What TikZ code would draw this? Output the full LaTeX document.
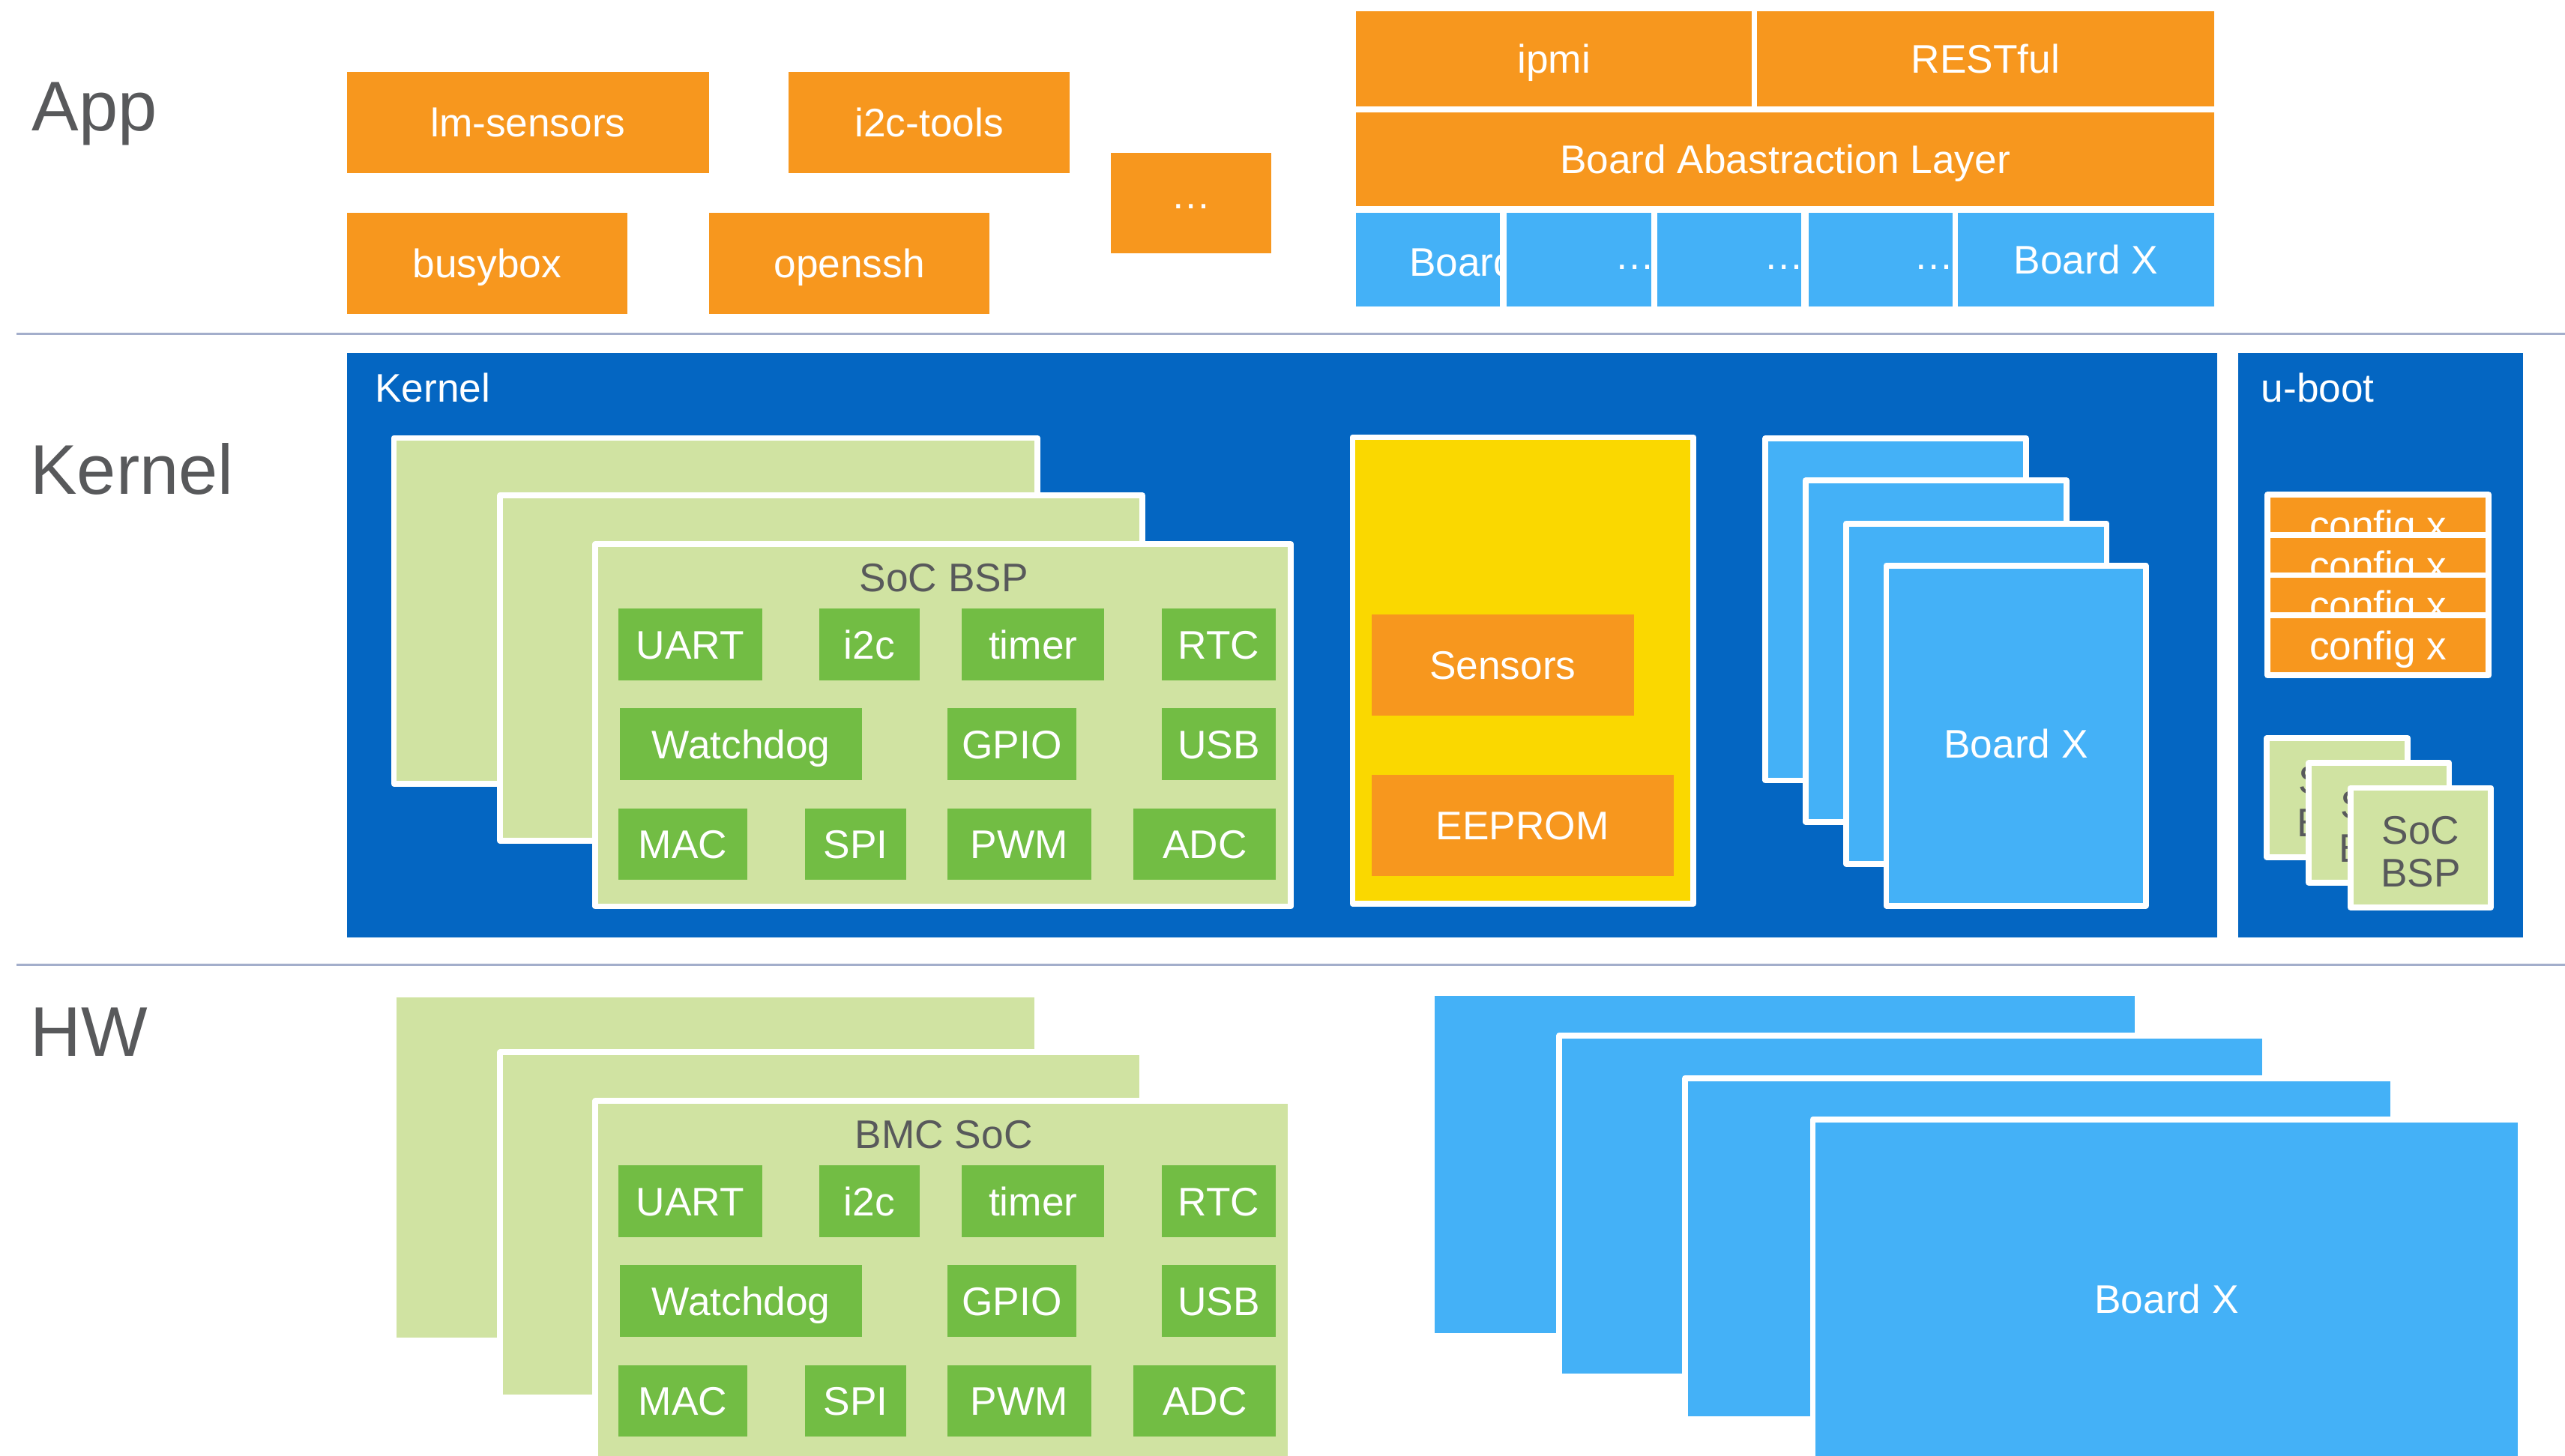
\documentclass[tikz,border=0pt]{standalone}
\usepackage{fontspec}
\setmainfont{Liberation Sans}
\definecolor{orng}{HTML}{F7971E}
\definecolor{kblue}{HTML}{0466C2}
\definecolor{lblue}{HTML}{44B1F7}
\definecolor{lgreen}{HTML}{D0E3A2}
\definecolor{dgreen}{HTML}{72BD44}
\definecolor{yel}{HTML}{FAD800}
\definecolor{gtext}{HTML}{58595B}
\definecolor{rulecol}{HTML}{A3AECB}
\newcommand\txtsz{\fontsize{24.4}{29.3}\selectfont}
\newcommand\bigsz{\fontsize{43}{51.6}\selectfont}
% box node from its corner coordinates: style, name, x1, y1, x2, y2, text
\newcommand\boxnode[7]{\node[#1, minimum width={#5-#3}, minimum height={#6-#4}] (#2) at ({(#3+#5)/2},{(#4+#6)/2}) {#7};}
\tikzset{
  plain/.style={rectangle, inner sep=0pt, outer sep=0pt, font=\txtsz, text height=17.6pt, text depth=0pt},
  obox/.style={plain, fill=orng, text=white},
  gbox/.style={plain, fill=dgreen, text=white},
  rimmed/.style={plain, draw=white, line width=3.6pt, line join=round},
  bbox/.style={rimmed, fill=lblue, text=white},
  lgbox/.style={rimmed, fill=lgreen, text=gtext},
  ybox/.style={rimmed, fill=yel},
  cbox/.style={rimmed, fill=orng, text=white},
  kbox/.style={plain, fill=kblue},
  txt/.style={inner sep=0pt, outer sep=0pt, font=\txtsz},
  bigtxt/.style={inner sep=0pt, outer sep=0pt, font=\bigsz, text=gtext, anchor=base west},
  divider/.style={draw=rulecol, line width=1.2pt},
}
% stack of SoC boards with the peripheral blocks on the front one
\newcommand\socstack[3]{%
  \begin{scope}[yshift=-#2pt]
    \boxnode{lgbox}{#1back}{240.8}{267.8}{634.2}{479.2}{}
    \boxnode{lgbox}{#1mid}{305.8}{302.8}{698.2}{514.2}{}
    \boxnode{lgbox}{#1front}{363.8}{332.8}{789.2}{554.2}{}
    \node[txt, text=gtext, anchor=base] (#1title) at (577,361.6) {#3};
    \boxnode{gbox}{#1uart}{378}{372}{466}{416}{UART}
    \boxnode{gbox}{#1iic}{501}{372}{562}{416}{i2c}
    \boxnode{gbox}{#1timer}{588}{372}{675}{416}{timer}
    \boxnode{gbox}{#1rtc}{710}{372}{780}{416}{RTC}
    \boxnode{gbox}{#1wdt}{379}{433}{527}{477}{Watchdog}
    \boxnode{gbox}{#1gpio}{579}{433}{658}{477}{GPIO}
    \boxnode{gbox}{#1usb}{710}{433}{780}{477}{USB}
    \boxnode{gbox}{#1mac}{378}{494.5}{457}{538}{MAC}
    \boxnode{gbox}{#1spi}{492}{494.5}{554}{538}{SPI}
    \boxnode{gbox}{#1pwm}{579}{494.5}{667}{538}{PWM}
    \boxnode{gbox}{#1adc}{693}{494.5}{780}{538}{ADC}
  \end{scope}}
\begin{document}
\begin{tikzpicture}[x=1pt, y=-1pt]
\useasboundingbox (0,0) rectangle (1568,890);
\clip (0,0) rectangle (1568,890);

% layer separators
\coordinate (sepAw) at (10,204);
\coordinate (sepAe) at (1568,204);
\coordinate (sepBw) at (10,590);
\coordinate (sepBe) at (1568,590);
\draw[divider] (sepAw) -- (sepAe);
\draw[divider] (sepBw) -- (sepBe);

% layer names
\node[bigtxt] (layApp) at (19.5,80) {App};
\node[bigtxt] (layKernel) at (18.5,302) {Kernel};
\node[bigtxt] (layHW) at (18.5,645.8) {HW};

% ---------------- App layer ----------------
\boxnode{obox}{lmsensors}{212}{44}{433.5}{105.7}{lm-sensors}
\boxnode{obox}{ictools}{482}{44}{654}{105.7}{i2c-tools}
\boxnode{obox}{busybox}{212}{130}{383.5}{192}{busybox}
\boxnode{obox}{openssh}{433.5}{130}{605}{192}{openssh}
\boxnode{obox}{moreapps}{679}{93.5}{777}{155}{\raisebox{5.5pt}{…}}

\boxnode{obox}{ipmi}{829}{6.9}{1071}{65}{ipmi}
\boxnode{obox}{restful}{1074}{6.9}{1353.4}{65}{RESTful}
\boxnode{obox}{bal}{829}{68.7}{1353.4}{126}{Board Abastraction Layer}

\boxnode{bbox}{brdA}{827.2}{128.2}{918.8}{189.4}{}
\node[txt, text=white, anchor=base west] (brdAtxt) at (861.5,168.8) {Board 1};
\boxnode{bbox}{brdB}{919.2}{128.2}{1011.3}{189.4}{}
\node[txt, text=white, anchor=base west] (brdBtxt) at (987.2,164.7) {…};
\boxnode{bbox}{brdC}{1011.2}{128.2}{1102.8}{189.4}{}
\node[txt, text=white, anchor=base west] (brdCtxt) at (1078.2,164.7) {…};
\boxnode{bbox}{brdD}{1103.7}{128.2}{1195.3}{189.4}{}
\node[txt, text=white, anchor=base west] (brdDtxt) at (1170.2,164.7) {…};
\boxnode{bbox}{brdX}{1195.2}{128.2}{1355.2}{189.4}{Board X}

% ---------------- Kernel layer ----------------
\boxnode{kbox}{kernel}{212}{216}{1355.5}{573}{}
\node[txt, text=white, anchor=base west] (kerneltxt) at (229.2,246) {Kernel};
\boxnode{kbox}{uboot}{1368}{216}{1542.4}{573}{}
\node[txt, text=white, anchor=base west] (uboottxt) at (1382.3,246) {u-boot};

\socstack{k}{0}{SoC BSP}

\boxnode{ybox}{drivers}{826.8}{267.4}{1035.2}{552.6}{}
\boxnode{obox}{sensors}{838.5}{375.8}{998.7}{437.6}{Sensors}
\boxnode{obox}{eeprom}{838.5}{473.8}{1023}{535.5}{EEPROM}

\boxnode{bbox}{kbrdA}{1079.2}{268.1}{1238.6}{477.2}{}
\boxnode{bbox}{kbrdB}{1103.8}{293.8}{1263.2}{502.5}{}
\boxnode{bbox}{kbrdC}{1128.5}{320.1}{1287.8}{528.2}{}
\boxnode{bbox}{kbrdX}{1153.1}{345.8}{1311.7}{553.8}{\raisebox{-4.7pt}{Board X}}

% u-boot configurations
\boxnode{cbox}{cfgA}{1386.2}{302.5}{1521.4}{339.2}{config x}
\boxnode{cbox}{cfgB}{1386.2}{327.1}{1521.4}{363.8}{config x}
\boxnode{cbox}{cfgC}{1386.2}{351.7}{1521.4}{388.4}{config x}
\boxnode{cbox}{cfgD}{1386.2}{376.3}{1521.4}{413.0}{config x}

% u-boot SoC support packages
\boxnode{lgbox}{ubspA}{1385.8}{451.2}{1471.8}{524.2}{}
\node[txt, text=gtext, anchor=base] (ubspAl1) at (1428.8,485.35) {SoC};
\node[txt, text=gtext, anchor=base] (ubspAl2) at (1428.8,511.75) {BSP};
\boxnode{lgbox}{ubspB}{1411.4}{466.5}{1497.2}{539.6}{}
\node[txt, text=gtext, anchor=base] (ubspBl1) at (1454.3,500.7) {SoC};
\node[txt, text=gtext, anchor=base] (ubspBl2) at (1454.3,527.1) {BSP};
\boxnode{lgbox}{ubspC}{1436.8}{481.8}{1522.7}{554.9}{}
\node[txt, text=gtext, anchor=base] (ubspCl1) at (1479.75,516) {SoC};
\node[txt, text=gtext, anchor=base] (ubspCl2) at (1479.75,542.4) {BSP};

% ---------------- HW layer ----------------
\socstack{h}{340.5}{BMC SoC}

\boxnode{bbox}{hbrdA}{875.2}{607.2}{1306.8}{816.8}{}
\boxnode{bbox}{hbrdB}{953.2}{633.2}{1384.8}{841.8}{}
\boxnode{bbox}{hbrdC}{1030.2}{659.2}{1462.8}{867.8}{}
\boxnode{bbox}{hbrdX}{1108.2}{684.6}{1540.8}{903.8}{Board X}
\end{tikzpicture}
\end{document}
